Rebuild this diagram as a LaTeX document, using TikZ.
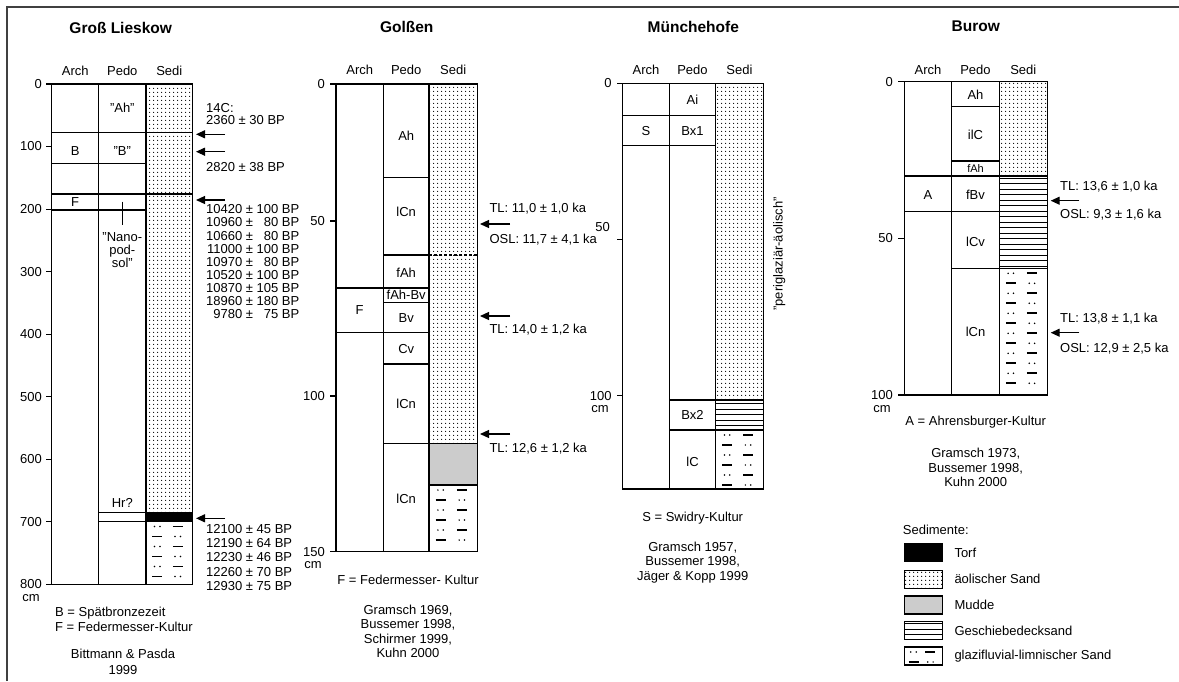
\documentclass[tikz,border=0pt]{standalone}
\usepackage{fontspec}
\setmainfont{Liberation Sans}
\usetikzlibrary{arrows.meta,patterns}

% sediment fills
\pgfdeclarepatternformonly{sanddots}{\pgfqpoint{0pt}{0pt}}{\pgfqpoint{4pt}{4pt}}{\pgfqpoint{4pt}{4pt}}{%
  \pgfpathcircle{\pgfqpoint{2pt}{2pt}}{0.75pt}\pgfusepath{fill}}
\pgfdeclarepatternformonly{decklines}{\pgfqpoint{-1pt}{0pt}}{\pgfqpoint{5pt}{5.5pt}}{\pgfqpoint{4pt}{5.5pt}}{%
  \pgfsetlinewidth{0.9pt}\pgfpathmoveto{\pgfqpoint{-1pt}{2.5pt}}\pgfpathlineto{\pgfqpoint{5pt}{2.5pt}}\pgfusepath{stroke}}

% glazifluvial sand: rows of dots and dashes, #1/#2 = left/right, #3/#4 = top/bottom
\newcommand{\glazisand}[4]{%
  \pgfmathtruncatemacro{\nrows}{((#4)-(#3)-8)/10}
  \pgfmathsetmacro{\xa}{#1+0.24*(#2-#1)}
  \pgfmathsetmacro{\xb}{#1+0.68*(#2-#1)}
  \foreach \k in {0,...,\nrows}{
    \pgfmathsetmacro{\yy}{#3+5+10*\k}
    \ifodd\k
      \draw[line width=1.7pt] (\xa-5,\yy) -- (\xa+5,\yy);
      \fill (\xb-2.7,\yy) circle[radius=0.85pt] (\xb+2.7,\yy) circle[radius=0.85pt];
    \else
      \fill (\xa-2.7,\yy) circle[radius=0.85pt] (\xa+2.7,\yy) circle[radius=0.85pt];
      \draw[line width=1.7pt] (\xb-5,\yy) -- (\xb+5,\yy);
    \fi
  }}

\begin{document}
\begin{tikzpicture}[x=1pt,y=-1pt,
  prof/.style={line width=1.1pt},
  lbl/.style={font=\fontsize{13}{15}\selectfont, inner sep=0pt},
  small/.style={font=\fontsize{11}{13}\selectfont, inner sep=0pt},
  ttl/.style={font=\fontsize{15.5}{18}\selectfont\bfseries, inner sep=0pt},
  datum/.style={lbl, anchor=west},
  dateptr/.style={-{Triangle[length=9pt,width=8pt]}, line width=1.2pt},
  aeol/.style={pattern=sanddots},
  deck/.style={pattern=decklines},
  mudde/.style={fill=black!20},
  torf/.style={fill=black}]
\useasboundingbox (0,0) rectangle (1179,681);
\fill[white] (0,0) rectangle (1179,681);
\draw[line width=1.6pt, black!75] (7,681) -- (7,7) -- (1179,7);

% ---------------- Gross Lieskow
\node[ttl] (gl-title) at (120.7,28) {Groß Lieskow};
\node[lbl] (gl-arch) at (75.2,71) {Arch};
\node[lbl] (gl-pedo) at (122.3,71) {Pedo};
\node[lbl] (gl-sedi) at (169.3,71) {Sedi};
\fill[aeol] (146,84) rectangle (192.7,512.7);
\fill[torf] (146,512.7) rectangle (192.7,521.5);
\glazisand{146}{192.7}{521.5}{584.3}
\draw[prof] (51.7,84) rectangle (192.7,584.3);
\draw[prof] (98.7,84) -- (98.7,584.3) (146,84) -- (146,584.3);
\draw[prof] (51.7,132.7) -- (192.7,132.7) (51.7,163.3) -- (146,163.3)
  (51.7,194) -- (192.7,194) (51.7,210) -- (146,210);
\draw[prof] (98.7,512.7) -- (192.7,512.7) (98.7,521.5) -- (192.7,521.5);
\draw[line width=0.8pt] (122,201.7) -- (122,225);
\foreach \yy/\lab in {84/0,146.5/100,209.1/200,271.6/300,334.1/400,396.7/500,459.2/600,521.7/700,584.3/800}{
  \draw[prof] (46,\yy) -- (51.7,\yy);
  \node[lbl, anchor=east] (gl-\lab) at (42,\yy) {\lab};
}
\node[lbl, anchor=north east] (gl-cm) at (40,594) {cm};
\node[lbl] (gl-ah) at (122.3,108) {"Ah"};
\node[lbl] (gl-b) at (75.2,151) {B};
\node[lbl] (gl-bp) at (122.3,151) {"B"};
\node[lbl] (gl-f) at (75.2,202) {F};
\node[lbl, align=center, font=\fontsize{13}{13.3}\selectfont] (gl-nano) at (122.3,250) {"Nano-\\pod-\\sol"};
\node[lbl] (gl-hr) at (122.3,503.3) {Hr?};
\draw[dateptr] (225,134.3) -- (196,134.3);
\draw[dateptr] (225,151.7) -- (196,151.7);
\draw[dateptr] (225,200) -- (196,200);
\draw[dateptr] (225,518.3) -- (196,518.3);
\node[datum] (gl-c14) at (206,108) {14C:};
\node[datum] (gl-d1) at (206,120) {2360 ± 30 BP};
\node[datum] (gl-d2) at (206,166.7) {2820 ± 38 BP};
\node[lbl, anchor=north west, font=\fontsize{13}{13.1}\selectfont] (gl-d3) at (206,204.5) {%
  \begin{tabular}{@{}r@{ ± }r@{ BP}}
  10420 & 100\\ 10960 & 80\\ 10660 & 80\\ 11000 & 100\\ 10970 & 80\\
  10520 & 100\\ 10870 & 105\\ 18960 & 180\\ 9780 & 75
  \end{tabular}};
\node[lbl, anchor=north west, font=\fontsize{13}{14.3}\selectfont] (gl-d4) at (206,523) {%
  \begin{tabular}{@{}r@{ ± }r@{ BP}}
  12100 & 45\\ 12190 & 64\\ 12230 & 46\\ 12260 & 70\\ 12930 & 75
  \end{tabular}};
\node[datum] (gl-key1) at (55,613.3) {B = Spätbronzezeit};
\node[datum] (gl-key2) at (55,626.7) {F = Federmesser-Kultur};
\node[lbl, align=center, font=\fontsize{13}{15.3}\selectfont] (gl-ref) at (123,661.7) {Bittmann \& Pasda\\1999};

% ---------------- Golssen
\node[ttl] (go-title) at (406.7,27.3) {Golßen};
\node[lbl] (go-arch) at (359.7,70) {Arch};
\node[lbl] (go-pedo) at (406.2,70) {Pedo};
\node[lbl] (go-sedi) at (453.2,70) {Sedi};
\fill[aeol] (429,84) rectangle (477.3,443.3);
\fill[mudde] (429,443.3) rectangle (477.3,485);
\glazisand{429}{477.3}{485}{551.7}
\draw[prof] (336,84) rectangle (477.3,551.7);
\draw[prof] (383.3,84) -- (383.3,551.7) (429,84) -- (429,551.7);
\draw[prof] (383.3,177.3) -- (429,177.3) (383.3,255) -- (429,255)
  (336,288) -- (429,288) (383.3,302.3) -- (429,302.3)
  (336,332.7) -- (429,332.7) (383.3,364) -- (429,364)
  (383.3,443.3) -- (477.3,443.3) (429,485) -- (477.3,485);
\draw[line width=1.3pt, dash pattern=on 3pt off 2pt] (429,255) -- (477.3,255);
\foreach \yy/\lab in {84/0,221/50,396/100,551.7/150}{
  \draw[prof] (330,\yy) -- (336,\yy);
  \node[lbl, anchor=east] (go-\lab) at (325,\yy) {\lab};
}
\node[lbl, anchor=north east] (go-cm) at (322,561) {cm};
\node[lbl] (go-ah) at (406.2,136) {Ah};
\node[lbl] (go-lcn1) at (406.2,211.7) {lCn};
\node[lbl] (go-fah) at (406.2,272.3) {fAh};
\node[lbl] (go-fahbv) at (406.2,295) {fAh-Bv};
\node[lbl] (go-bv) at (406.2,318.3) {Bv};
\node[lbl] (go-f) at (359.7,310.3) {F};
\node[lbl] (go-cv) at (406.2,349.5) {Cv};
\node[lbl] (go-lcn2) at (406.2,404) {lCn};
\node[lbl] (go-lcn3) at (406.2,499) {lCn};
\draw[dateptr] (510,224) -- (480,224);
\draw[dateptr] (510,316) -- (480,316);
\draw[dateptr] (510,434) -- (480,434);
\node[datum] (go-tl1) at (489.3,208.3) {TL: 11,0 ± 1,0 ka};
\node[datum] (go-osl1) at (489.3,240) {OSL: 11,7 ± 4,1 ka};
\node[datum] (go-tl2) at (489.3,330) {TL: 14,0 ± 1,2 ka};
\node[datum] (go-tl3) at (489.3,449) {TL: 12,6 ± 1,2 ka};
\node[lbl] (go-key) at (408,580) {F = Federmesser- Kultur};
\node[lbl, align=center, font=\fontsize{13}{14.2}\selectfont] (go-ref) at (408,631.3) {Gramsch 1969,\\Bussemer 1998,\\Schirmer 1999,\\Kuhn 2000};

% ---------------- Muenchehofe
\node[ttl] (mh-title) at (693.3,26.7) {Münchehofe};
\node[lbl] (mh-arch) at (646,70) {Arch};
\node[lbl] (mh-pedo) at (692.5,70) {Pedo};
\node[lbl] (mh-sedi) at (739.5,70) {Sedi};
\fill[aeol] (715.7,83.3) rectangle (763.3,400);
\fill[deck] (715.7,400) rectangle (763.3,430);
\glazisand{715.7}{763.3}{430}{489}
\draw[prof] (622.7,83.3) rectangle (763.3,489);
\draw[prof] (669.3,83.3) -- (669.3,489) (715.7,83.3) -- (715.7,489);
\draw[prof] (622.7,115.7) -- (715.7,115.7) (622.7,145.7) -- (715.7,145.7)
  (669.3,400) -- (763.3,400) (669.3,430) -- (763.3,430);
\draw[prof] (617,83.3) -- (622.7,83.3) (617,239.3) -- (622.7,239.3) (617,395.7) -- (622.7,395.7);
\node[lbl, anchor=east] (mh-0) at (611.7,83.3) {0};
\node[lbl, anchor=east] (mh-50) at (610,226.7) {50};
\node[lbl, anchor=east] (mh-100) at (611.7,395.7) {100};
\node[lbl, anchor=north east] (mh-cm) at (609,405) {cm};
\node[lbl] (mh-ai) at (692.5,100) {Ai};
\node[lbl] (mh-s) at (646,131) {S};
\node[lbl] (mh-bx1) at (692.5,131) {Bx1};
\node[lbl] (mh-bx2) at (692.5,415) {Bx2};
\node[lbl] (mh-lc) at (692.5,461.7) {lC};
\node[lbl, rotate=90] (mh-peri) at (779.3,254) {"periglaziär-äolisch"};
\node[lbl] (mh-key) at (692.7,518.3) {S = Swidry-Kultur};
\node[lbl, align=center, font=\fontsize{13}{14.2}\selectfont] (mh-ref) at (692.7,562.5) {Gramsch 1957,\\Bussemer 1998,\\Jäger \& Kopp 1999};

% ---------------- Burow
\node[ttl] (bu-title) at (975.7,26.7) {Burow};
\node[lbl] (bu-arch) at (928,70) {Arch};
\node[lbl] (bu-pedo) at (975.5,70) {Pedo};
\node[lbl] (bu-sedi) at (1023.3,70) {Sedi};
\fill[aeol] (999.3,81.7) rectangle (1047.3,176);
\fill[deck] (999.3,176) rectangle (1047.3,268.3);
\glazisand{999.3}{1047.3}{268.3}{395}
\draw[prof] (904.3,81.7) rectangle (1047.3,395);
\draw[prof] (951.7,81.7) -- (951.7,395) (999.3,81.7) -- (999.3,395);
\draw[prof] (951.7,106.7) -- (999.3,106.7) (951.7,161) -- (999.3,161)
  (904.3,176) -- (1047.3,176) (904.3,211.7) -- (999.3,211.7)
  (951.7,268.3) -- (1047.3,268.3);
\foreach \yy/\lab in {81.7/0,238.3/50,395/100}{
  \draw[prof] (898,\yy) -- (904.3,\yy);
  \node[lbl, anchor=east] (bu-\lab) at (893,\yy) {\lab};
}
\node[lbl, anchor=north east] (bu-cm) at (891,405) {cm};
\node[lbl] (bu-ah) at (975.5,94.5) {Ah};
\node[lbl] (bu-ilc) at (975.5,135) {ilC};
\node[small] (bu-fah) at (975.5,169) {fAh};
\node[lbl] (bu-a) at (928,195) {A};
\node[lbl] (bu-fbv) at (975.5,195) {fBv};
\node[lbl] (bu-lcv) at (975.5,242) {lCv};
\node[lbl] (bu-lcn) at (975.5,331.7) {lCn};
\draw[dateptr] (1079.3,200.7) -- (1050.7,200.7);
\draw[dateptr] (1079.3,332.7) -- (1050.7,332.7);
\node[datum] (bu-tl1) at (1060,186.7) {TL: 13,6 ± 1,0 ka};
\node[datum] (bu-osl1) at (1060,215) {OSL: 9,3 ± 1,6 ka};
\node[datum] (bu-tl2) at (1060,318.3) {TL: 13,8 ± 1,1 ka};
\node[datum] (bu-osl2) at (1060,348.3) {OSL: 12,9 ± 2,5 ka};
\node[lbl] (bu-key) at (975.7,421.7) {A = Ahrensburger-Kultur};
\node[lbl, align=center, font=\fontsize{13}{14.2}\selectfont] (bu-ref) at (975.7,467.5) {Gramsch 1973,\\Bussemer 1998,\\Kuhn 2000};

% ---------------- legend
\node[datum] (leg-title) at (902.7,530) {Sedimente:};
\draw[prof, torf] (904.3,543.7) rectangle (942.7,561.7);
\draw[prof, aeol] (904.3,570.3) rectangle (942.7,588.3);
\draw[prof, mudde] (904.3,596) rectangle (942.7,614);
\draw[prof, deck] (904.3,621.7) rectangle (942.7,639.7);
\glazisand{904.3}{942.7}{647}{665}
\draw[prof] (904.3,647) rectangle (942.7,665);
\node[datum] (leg-torf) at (954.3,552.7) {Torf};
\node[datum] (leg-aeol) at (954.3,579.3) {äolischer Sand};
\node[datum] (leg-mudde) at (954.3,605) {Mudde};
\node[datum] (leg-deck) at (954.3,630.7) {Geschiebedecksand};
\node[datum] (leg-glazi) at (954.3,656) {glazifluvial-limnischer Sand};
\end{tikzpicture}
\end{document}
